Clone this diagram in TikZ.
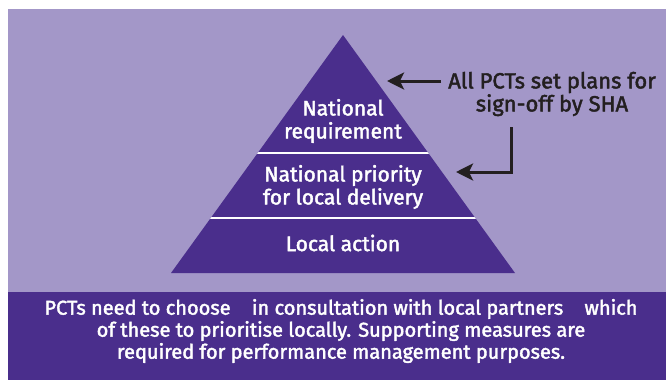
\documentclass[tikz,border=0pt]{standalone}
\usepackage{fontspec}
\setmainfont{Fira Sans}[UprightFeatures={FakeBold=2}]
\usetikzlibrary{arrows.meta}
\definecolor{bglight}{RGB}{163,151,200}
\definecolor{darkpurple}{RGB}{74,46,140}
\definecolor{inkc}{RGB}{35,31,32}
\tikzset{
  pyrtext/.style={text=white, align=center, font=\fontsize{21}{23}\selectfont, inner sep=0pt},
  notetext/.style={text=inkc, align=center, font=\fontsize{22}{23}\selectfont, inner sep=0pt},
  bandtext/.style={text=white, align=center, font=\fontsize{20}{22}\selectfont, inner sep=0pt},
  pointer/.style={draw=inkc, line width=3pt, -{Stealth[length=17pt, width=17pt, inset=4pt]}},
  divider/.style={draw=white, line width=2pt}
}
\begin{document}
\begin{tikzpicture}[x=1pt, y=-1pt]
\useasboundingbox (0,0) rectangle (666,380);
\fill[bglight] (8,9) rectangle (666,292);
\fill[darkpurple] (8,292) rectangle (666,380);
\coordinate (apex) at (343,35);
\coordinate (bl) at (171,273);
\coordinate (br) at (515,273);
\fill[darkpurple] (apex) -- (br) -- (bl) -- cycle;
\begin{scope}
  \clip (apex) -- (br) -- (bl) -- cycle;
  \draw[divider] (150,153) -- (540,153);
  \draw[divider] (150,218) -- (540,218);
\end{scope}
\node[pyrtext] (req) at (343,121) {National\\requirement};
\node[pyrtext] (prio) at (343,187) {National priority\\for local delivery};
\node[pyrtext] (local) at (343,243) {Local action};
\node[notetext] (note) at (552,94) {All PCTs set plans for\\sign-off by SHA};
\node[bandtext] (band) at (341,331) {PCTs need to choose\hspace{0.8em} in consultation with local partners\hspace{0.8em} which\\of these to prioritise locally. Supporting measures are\\required for performance management purposes.};
\coordinate (a1s) at (441,81);
\coordinate (a1e) at (387,81);
\coordinate (a2s) at (511,127);
\coordinate (a2e) at (456,172);
\draw[pointer] (a1s) -- (a1e);
\draw[pointer] (a2s) |- (a2e);
\end{tikzpicture}
\end{document}
